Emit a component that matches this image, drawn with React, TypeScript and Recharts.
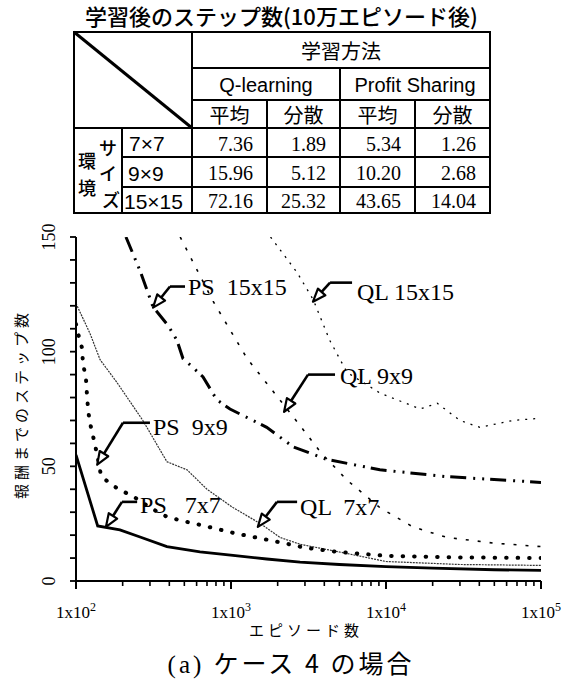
import React from "react";
import { LineChart, Line, XAxis, YAxis, ReferenceLine, ReferenceDot } from "recharts";

// ---------- table data ----------
const tableTitle = "学習後のステップ数(10万エピソード後)";
const methodHeader = "学習方法";
const methods = ["Q-learning", "Profit Sharing"];
const stats = ["平均", "分散"];
const envLabelA = ["環", "境"];
const envLabelB = ["サ", "イ", "ズ"];
const envSizes = ["7×7", "9×9", "15×15"];
const qlMean = [7.36, 15.96, 72.16];
const qlVar = [1.89, 5.12, 25.32];
const psMean = [5.34, 10.2, 43.65];
const psVar = [1.26, 2.68, 14.04];

// ---------- chart data (episodes, steps) ----------
const ps7 = [
  [100, 55], [138, 24], [192, 22.3], [259, 19.2], [386, 15], [631, 12.7], [1030, 11.2],
  [1700, 9.6], [2790, 8.2], [5000, 7.2], [10000, 6.3], [20000, 5.6], [50000, 4.9], [100000, 4.6],
];
const ps9 = [
  [100, 112], [103, 108], [109, 102], [111, 95], [116, 88], [118, 80], [120, 74], [123, 69],
  [129, 63], [137, 55], [145, 46], [165, 42.5], [192, 39.7], [233, 37], [300, 32], [386, 28],
  [500, 26], [631, 24.5], [1030, 21], [2164, 16.6], [3000, 14.5], [5000, 12.6], [10000, 11],
  [30000, 10.3], [100000, 10],
];
const ql7 = [
  [100, 121], [123, 108], [143, 96.5], [184, 86.5], [270, 70], [386, 52], [520, 48.5],
  [700, 40], [1030, 32], [1550, 25], [2070, 19], [2800, 16], [5600, 12], [10000, 8.5],
  [30000, 7.2], [100000, 6.8],
];
const ql9 = [
  [470, 150], [766, 122], [1270, 97], [2300, 75], [3000, 65], [3800, 56], [5600, 44],
  [9130, 32], [14900, 23.6], [24700, 19], [50000, 16.5], [100000, 15],
];
const ps15 = [
  [210, 150], [260, 135], [314, 119.5], [392, 111.5], [448, 105], [490, 97], [570, 93],
  [660, 89], [810, 79], [985, 75], [1700, 67], [2520, 58.5], [4160, 53], [9130, 48.5],
  [24700, 45.5], [100000, 43],
];
const ql15 = [
  [1800, 150], [2070, 144.5], [2670, 134.5], [3390, 122.7], [4330, 105], [5600, 91],
  [9130, 82], [16600, 75], [21400, 77.5], [30000, 70], [40300, 67], [66000, 70], [100000, 71],
];

const xTicks = [
  100, 200, 300, 400, 500, 600, 700, 800, 900,
  1000, 2000, 3000, 4000, 5000, 6000, 7000, 8000, 9000,
  10000, 20000, 30000, 40000, 50000, 60000, 70000, 80000, 90000, 100000,
];
const yTicks = [0, 10, 20, 30, 40, 50, 60, 70, 80, 90, 100, 110, 120, 130, 140, 150];
const yLabelled = [0, 50, 100, 150];

// annotations: text anchor (tx,ty), horizontal start (hx,hy), elbow (ex,ey), arrow tip (px,py)
const annLabels = ["PS  15x15", "QL 15x15", "QL 9x9", "PS  9x9", "PS   7x7", "QL  7x7"];
const annText = [[528, 124.9], [6500, 122.7], [5050, 86], [314, 63.8], [259, 29.7], [2790, 28.8]];
const annStart = [[505, 128.4], [6040, 130.1], [4690, 90], [300, 69], [248, 34.5], [2670, 34.5]];
const annElbow = [[404, 128.4], [4355, 130.1], [3140, 90], [201, 69], [198, 34.5], [1980, 34.5]];
const annTip = [[314, 119.2], [3380, 121.8], [2200, 73.8], [137, 50.7], [156, 23.6], [1490, 23.6]];

const toPts = (arr: number[][]) => arr.map(([x, y]) => ({ x, y }));

const SERIF = "'Liberation Serif', 'DejaVu Serif', serif";
const SANS = "'Liberation Sans', Arial, sans-serif";
const CJK = "'Noto Sans CJK JP', 'Noto Sans', sans-serif";

const XTick = (props: any) => {
  const { x, y, payload } = props;
  const v = payload.value as number;
  const lg = Math.log10(v);
  const exp = Math.round(lg);
  const major = Math.abs(lg - exp) < 1e-6;
  return (
    <g>
      <line x1={x} x2={x} y1={y} y2={y + (major ? 8 : 5)} stroke="#000" strokeWidth={major ? 2 : 1.6} />
      {major && (
        <text x={x} y={y + 37} textAnchor="middle" fontFamily={SERIF} fontSize={17} fill="#000">
          1x10<tspan dy={-7} fontSize={12}>{exp}</tspan>
        </text>
      )}
    </g>
  );
};

const YTick = (props: any) => {
  const { x, y, payload } = props;
  const v = payload.value as number;
  const lab = yLabelled.includes(v);
  const cx = x - 27;
  return (
    <g>
      <line x1={x - 6} x2={x} y1={y} y2={y} stroke="#000" strokeWidth={1.8} />
      {lab && (
        <text
          x={cx}
          y={y}
          transform={`rotate(-90, ${cx}, ${y})`}
          textAnchor="middle"
          dominantBaseline="central"
          fontFamily={SERIF}
          fontSize={18}
          fill="#000"
        >
          {v}
        </text>
      )}
    </g>
  );
};

const Arrow = (p: any) => {
  const { x1, y1, x2, y2 } = p;
  const ang = Math.atan2(y2 - y1, x2 - x1);
  const L = 13;
  const W = 5;
  const bx = x2 - L * Math.cos(ang);
  const by = y2 - L * Math.sin(ang);
  const nx = -Math.sin(ang) * W;
  const ny = Math.cos(ang) * W;
  return (
    <g>
      <line x1={x1} y1={y1} x2={bx} y2={by} stroke="#000" strokeWidth={2.6} />
      <polygon
        points={`${x2},${y2} ${bx + nx},${by + ny} ${bx - nx},${by - ny}`}
        fill="#fff"
        stroke="#000"
        strokeWidth={2.2}
        strokeLinejoin="round"
      />
    </g>
  );
};

const Seg = (p: any) => (
  <line x1={p.x1} y1={p.y1} x2={p.x2} y2={p.y2} stroke="#000" strokeWidth={2.6} />
);

const makeLabel = (txt: string) => (p: any) => (
  <text x={p.cx} y={p.cy} fontFamily={SERIF} fontSize={24} fill="#000" style={{ whiteSpace: "pre" }}>
    {txt}
  </text>
);

const colX = [74, 122, 192, 267, 340, 415, 490];
const rowY = [32, 68, 100, 128, 157, 187, 213];

const Table = () => {
  const lw = 2;
  const rows = envSizes.map((s, i) => [qlMean[i], qlVar[i], psMean[i], psVar[i]]);
  return (
    <svg width={567} height={230} style={{ position: "absolute", left: 0, top: 0 }}>
      <text x={85} y={25} fontFamily={CJK} fontSize={22} fontWeight={500} fill="#000">
        {tableTitle}
      </text>
      <rect x={colX[0]} y={rowY[0]} width={colX[6] - colX[0]} height={rowY[6] - rowY[0]} fill="none" stroke="#000" strokeWidth={lw} />
      <line x1={colX[2]} x2={colX[6]} y1={rowY[1]} y2={rowY[1]} stroke="#000" strokeWidth={lw} />
      <line x1={colX[2]} x2={colX[6]} y1={rowY[2]} y2={rowY[2]} stroke="#000" strokeWidth={lw} />
      <line x1={colX[0]} x2={colX[6]} y1={rowY[3]} y2={rowY[3]} stroke="#000" strokeWidth={lw} />
      <line x1={colX[1]} x2={colX[6]} y1={rowY[4]} y2={rowY[4]} stroke="#000" strokeWidth={lw} />
      <line x1={colX[1]} x2={colX[6]} y1={rowY[5]} y2={rowY[5]} stroke="#000" strokeWidth={lw} />
      <line x1={colX[2]} x2={colX[2]} y1={rowY[0]} y2={rowY[6]} stroke="#000" strokeWidth={lw} />
      <line x1={colX[4]} x2={colX[4]} y1={rowY[1]} y2={rowY[6]} stroke="#000" strokeWidth={lw} />
      <line x1={colX[3]} x2={colX[3]} y1={rowY[2]} y2={rowY[6]} stroke="#000" strokeWidth={lw} />
      <line x1={colX[5]} x2={colX[5]} y1={rowY[2]} y2={rowY[6]} stroke="#000" strokeWidth={lw} />
      <line x1={colX[1]} x2={colX[1]} y1={rowY[3]} y2={rowY[6]} stroke="#000" strokeWidth={lw} />
      <line x1={colX[0]} y1={rowY[0]} x2={colX[2]} y2={rowY[3]} stroke="#000" strokeWidth={3} />
      <text x={(colX[2] + colX[6]) / 2} y={(rowY[0] + rowY[1]) / 2} textAnchor="middle" dominantBaseline="central" fontFamily={CJK} fontSize={20} fill="#000">
        {methodHeader}
      </text>
      {methods.map((m, i) => (
        <text key={m} x={(colX[2 + 2 * i] + colX[4 + 2 * i]) / 2} y={(rowY[1] + rowY[2]) / 2 + 1} textAnchor="middle" dominantBaseline="central" fontFamily={SANS} fontSize={20} fill="#000">
          {m}
        </text>
      ))}
      {[0, 1, 2, 3].map((k) => (
        <text key={k} x={(colX[2 + k] + colX[3 + k]) / 2} y={(rowY[2] + rowY[3]) / 2} textAnchor="middle" dominantBaseline="central" fontFamily={CJK} fontSize={20} fill="#000">
          {stats[k % 2]}
        </text>
      ))}
      {envLabelA.map((c, i) => (
        <text key={c} x={87} y={[160, 187][i]} textAnchor="middle" dominantBaseline="central" fontFamily={CJK} fontSize={18} fontWeight={500} fill="#000">
          {c}
        </text>
      ))}
      {envLabelB.map((c, i) => (
        <text key={c} x={[108, 108, 111][i]} y={[147, 172, 199][i]} textAnchor="middle" dominantBaseline="central" fontFamily={CJK} fontSize={18} fontWeight={500} fill="#000">
          {c}
        </text>
      ))}
      {envSizes.map((s, i) => (
        <text key={s} x={[129, 128, 124][i]} y={(rowY[3 + i] + rowY[4 + i]) / 2 + 1} dominantBaseline="central" fontFamily={SANS} fontSize={21} fill="#000">
          {s}
        </text>
      ))}
      {rows.map((r, i) =>
        r.map((v, k) => (
          <text key={`${i}-${k}`} x={colX[3 + k] - 14} y={(rowY[3 + i] + rowY[4 + i]) / 2 + 1} textAnchor="end" dominantBaseline="central" fontFamily={SERIF} fontSize={20} fill="#000">
            {v.toFixed(2)}
          </text>
        ))
      )}
    </svg>
  );
};

export default function App() {
  return (
    <div style={{ position: "absolute", left: 0, top: 0, width: 567, height: 686, background: "#fff" }}>
      <Table />
      <div style={{ position: "absolute", left: 0, top: 0 }}>
        <LineChart width={567} height={686} margin={{ top: 237, right: 26, bottom: 75, left: 36 }}>
          <XAxis
            dataKey="x"
            type="number"
            scale="log"
            domain={[100, 100000]}
            allowDataOverflow
            ticks={xTicks}
            interval={0}
            height={30}
            tickSize={0}
            tickMargin={0}
            tickLine={false}
            tick={<XTick />}
            axisLine={{ stroke: "#000", strokeWidth: 2 }}
          />
          <YAxis
            dataKey="y"
            type="number"
            domain={[0, 150]}
            allowDataOverflow
            ticks={yTicks}
            interval={0}
            width={40}
            tickSize={0}
            tickMargin={0}
            tickLine={false}
            tick={<YTick />}
            axisLine={{ stroke: "#000", strokeWidth: 2 }}
          />
          <Line data={toPts(ql7)} dataKey="y" stroke="#333" strokeWidth={1.2} strokeDasharray="2 1" dot={false} activeDot={false} isAnimationActive={false} />
          <Line data={toPts(ql15)} dataKey="y" stroke="#000" strokeWidth={1.3} strokeDasharray="2 6" dot={false} activeDot={false} isAnimationActive={false} />
          <Line data={toPts(ql9)} dataKey="y" stroke="#000" strokeWidth={1.6} strokeDasharray="3 9" dot={false} activeDot={false} isAnimationActive={false} />
          <Line data={toPts(ps15)} dataKey="y" stroke="#000" strokeWidth={3} strokeDasharray="16 7 2 7 2 6" dot={false} activeDot={false} isAnimationActive={false} />
          <Line data={toPts(ps9)} dataKey="y" stroke="#000" strokeWidth={4} strokeLinecap="round" strokeDasharray="0.5 11" dot={false} activeDot={false} isAnimationActive={false} />
          <Line data={toPts(ps7)} dataKey="y" stroke="#000" strokeWidth={2.8} dot={false} activeDot={false} isAnimationActive={false} />
          {annLabels.map((t, i) => (
            <ReferenceLine key={`h${i}`} segment={[{ x: annStart[i][0], y: annStart[i][1] }, { x: annElbow[i][0], y: annElbow[i][1] }]} shape={Seg} />
          ))}
          {annLabels.map((t, i) => (
            <ReferenceLine key={`a${i}`} segment={[{ x: annElbow[i][0], y: annElbow[i][1] }, { x: annTip[i][0], y: annTip[i][1] }]} shape={Arrow} />
          ))}
          {annLabels.map((t, i) => (
            <ReferenceDot key={`t${i}`} x={annText[i][0]} y={annText[i][1]} r={1} shape={makeLabel(t)} />
          ))}
        </LineChart>
      </div>
      <svg width={567} height={686} style={{ position: "absolute", left: 0, top: 0, pointerEvents: "none" }}>
        <text
          x={20}
          y={404}
          transform="rotate(-90, 20, 404)"
          textAnchor="middle"
          dominantBaseline="central"
          fontFamily={CJK}
          fontSize={15}
          letterSpacing={4}
          fill="#000"
        >
          報酬までのステップ数
        </text>
        <text x={306} y={636} textAnchor="middle" fontFamily={CJK} fontSize={15} letterSpacing={4} fill="#000">
          エピソード数
        </text>
        <text x={291} y={673} textAnchor="middle" fontSize={25} letterSpacing={3} fill="#000">
          <tspan fontFamily={SERIF}>(a) </tspan>
          <tspan fontFamily={CJK}>ケース 4 の場合</tspan>
        </text>
      </svg>
    </div>
  );
}
